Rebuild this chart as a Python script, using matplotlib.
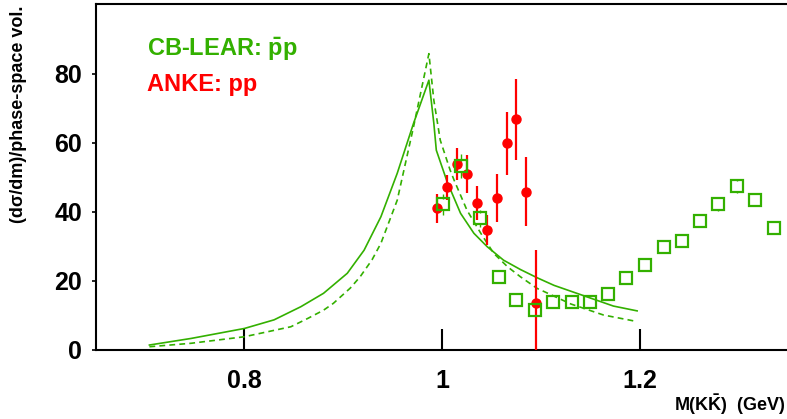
import matplotlib
matplotlib.use("Agg")
import matplotlib.pyplot as plt

plt.rcParams['font.family'] = ['Liberation Sans', 'DejaVu Sans']
plt.rcParams['font.weight'] = 'bold'
plt.rcParams['mathtext.fontset'] = 'custom'
plt.rcParams['mathtext.rm'] = 'Liberation Sans:bold'
plt.rcParams['mathtext.bf'] = 'Liberation Sans:bold'

GREEN = '#33b000'
RED = '#ff0000'

# ANKE: pp data
anke_x = [0.995, 1.005, 1.015, 1.025, 1.035, 1.045, 1.055, 1.065, 1.075, 1.085, 1.095]
anke_y = [40.9, 47.0, 53.9, 50.9, 42.5, 34.7, 44.0, 59.8, 66.8, 45.7, 13.4]
anke_err = [4.2, 3.6, 4.6, 5.5, 5.0, 4.4, 7.0, 9.1, 11.7, 10.0, 15.4]

# CB-LEAR: pbar p data
cb_x = [1.001, 1.019, 1.038, 1.057, 1.075, 1.094, 1.112, 1.131, 1.149, 1.168,
        1.186, 1.205, 1.224, 1.242, 1.261, 1.279, 1.298, 1.316, 1.335]
cb_y = [42.1, 53.2, 38.0, 20.9, 14.5, 11.4, 13.9, 13.9, 13.9, 16.1,
        20.7, 24.4, 29.8, 31.6, 37.3, 42.2, 47.3, 43.4, 35.3]
cb_err = [3.0, 3.4, 2.5, 1.0, 1.0, 1.0, 1.0, 1.0, 1.0, 1.0,
          1.0, 1.2, 1.3, 1.4, 1.6, 1.9, 2.0, 1.9, 1.7]

# model curves
solid_x = [0.704, 0.746, 0.800, 0.830, 0.857, 0.880, 0.904, 0.921, 0.938,
           0.9545, 0.971, 0.9865, 0.9915, 0.994, 1.005, 1.0185, 1.032, 1.0455,
           1.062, 1.079, 1.096, 1.113, 1.146, 1.173, 1.197]
solid_y = [1.3, 3.2, 6.1, 8.6, 12.4, 16.3, 22.1, 28.8, 38.5,
           51.1, 65.6, 78.1, 65.6, 57.8, 48.6, 39.5, 33.7, 29.8,
           25.9, 23.2, 20.8, 18.6, 15.3, 12.6, 11.2]
dash_x = [0.704, 0.746, 0.800, 0.847, 0.864, 0.880, 0.890, 0.907, 0.917, 0.929, 0.938,
          0.9545, 0.971, 0.9865, 0.9915, 0.998, 1.008, 1.012, 1.025, 1.039, 1.052,
          1.066, 1.079, 1.096, 1.103, 1.130, 1.163, 1.197]
dash_y = [0.8, 1.8, 3.7, 6.6, 9.0, 11.4, 13.4, 17.8, 21.1, 26.0, 30.8,
          43.3, 64.6, 85.8, 72.3, 60.7, 52.0, 49.1, 40.4, 33.7, 27.9,
          24.0, 21.1, 17.7, 16.8, 13.2, 10.0, 8.1]

xticks = [0.8, 1.0, 1.2]
xtick_labels = ['0.8', '1', '1.2']
yticks = [0, 20, 40, 60, 80]

fig = plt.figure(figsize=(7.87, 4.19), dpi=100)
ax = fig.add_axes([96/787, 69.5/419, (787-96)/787, 345.5/419])

ax.plot(solid_x, solid_y, color=GREEN, lw=1.2, zorder=2)
ax.plot(dash_x, dash_y, color=GREEN, lw=1.2, linestyle=(0, (3.5, 2.5)), zorder=2)

# CB-LEAR error bars drawn only outside the open squares
half_sq = 1.6
for x, y, e in zip(cb_x, cb_y, cb_err):
    if e > half_sq:
        ax.vlines([x, x], [y + half_sq, y - e], [y + e, y - half_sq],
                  color=GREEN, lw=1.0, zorder=4)
ax.plot(cb_x, cb_y, 's', ms=8, mfc='none', mec=GREEN, mew=1.6, zorder=4)

ax.errorbar(anke_x, anke_y, yerr=anke_err, fmt='o', ms=6.5, color=RED,
            ecolor=RED, elinewidth=1.6, capsize=0, zorder=3)

ax.set_xlim(0.65, 1.3485)
ax.set_ylim(0, 100.2)

ax.spines['right'].set_visible(False)
for s in ['left', 'bottom', 'top']:
    ax.spines[s].set_linewidth(1.5)

ax.set_xticks(xticks)
ax.set_xticklabels(xtick_labels)
ax.set_yticks(yticks)
ax.tick_params(axis='x', direction='in', length=15, width=1.5, pad=14, labelsize=18)
ax.tick_params(axis='y', direction='out', length=3, width=1.2, pad=7, labelsize=18)
for lab in ax.get_xticklabels() + ax.get_yticklabels():
    lab.set_fontweight('bold')

fig.text(147/787, 1 - 56/419, r'CB-LEAR: $\mathrm{\bar{p}p}$', color=GREEN,
         fontsize=17, fontweight='bold', ha='left', va='baseline')
fig.text(147/787, 1 - 91.5/419, 'ANKE: pp', color=RED,
         fontsize=17, fontweight='bold', ha='left', va='baseline')

fig.text(19/787, 1 - 114/419, '(d\u03c3/dm)/phase-space vol.', rotation=90,
         fontsize=13, fontweight='bold', ha='center', va='center')
fig.text(786/787, 1 - 411/419, r'M(K$\mathrm{\bar{K}}$)  (GeV)',
         fontsize=13, fontweight='bold', ha='right', va='baseline')

fig.savefig('out.png', dpi=100)
